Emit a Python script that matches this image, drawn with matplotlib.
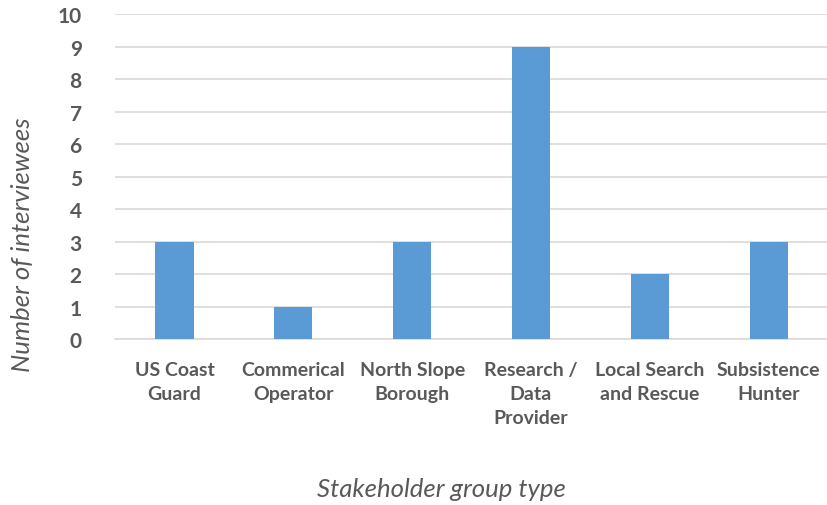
import matplotlib.pyplot as plt
import numpy as np

categories = ['US Coast\nGuard', 'Commerical\nOperator', 'North Slope\nBorough',
              'Research /\nData\nProvider', 'Local Search\nand Rescue', 'Subsistence\nHunter']
counts = [3, 1, 3, 9, 2, 3]

plt.rcParams['font.family'] = ['Lato', 'DejaVu Sans']

fig = plt.figure(figsize=(8.28, 5.06), dpi=100)
ax = fig.add_axes([0.139, 0.328, 0.861, 0.642])

x = np.arange(len(categories))
ax.bar(x, counts, width=0.32, color='#5B9BD5', zorder=3)

ax.set_xlim(-0.5, len(categories) - 0.5)
ax.set_ylim(0, 10)
ax.set_yticks(range(0, 11))
ax.grid(axis='y', color='#d9d9d9', linewidth=1.2, zorder=0)
for s in ['top', 'right', 'left']:
    ax.spines[s].set_visible(False)
ax.spines['bottom'].set_color('#d9d9d9')
ax.spines['bottom'].set_linewidth(1.2)

ax.set_xticks(x)
ax.set_xticklabels(categories, fontsize=14, fontweight='bold', color='#595959',
                   linespacing=1.5)
ax.tick_params(axis='x', length=0, pad=16)
ax.tick_params(axis='y', length=0, pad=24, labelsize=15, labelcolor='#595959')
for t in ax.get_yticklabels():
    t.set_fontweight('bold')

fig.text(0.027, 0.516, 'Number of interviewees', rotation=90, fontsize=18.5,
         style='italic', color='#595959', ha='center', va='center')
fig.text(0.533, 0.032, 'Stakeholder group type', fontsize=18.5,
         style='italic', color='#595959', ha='center', va='center')

fig.savefig('out.png', dpi=100)
